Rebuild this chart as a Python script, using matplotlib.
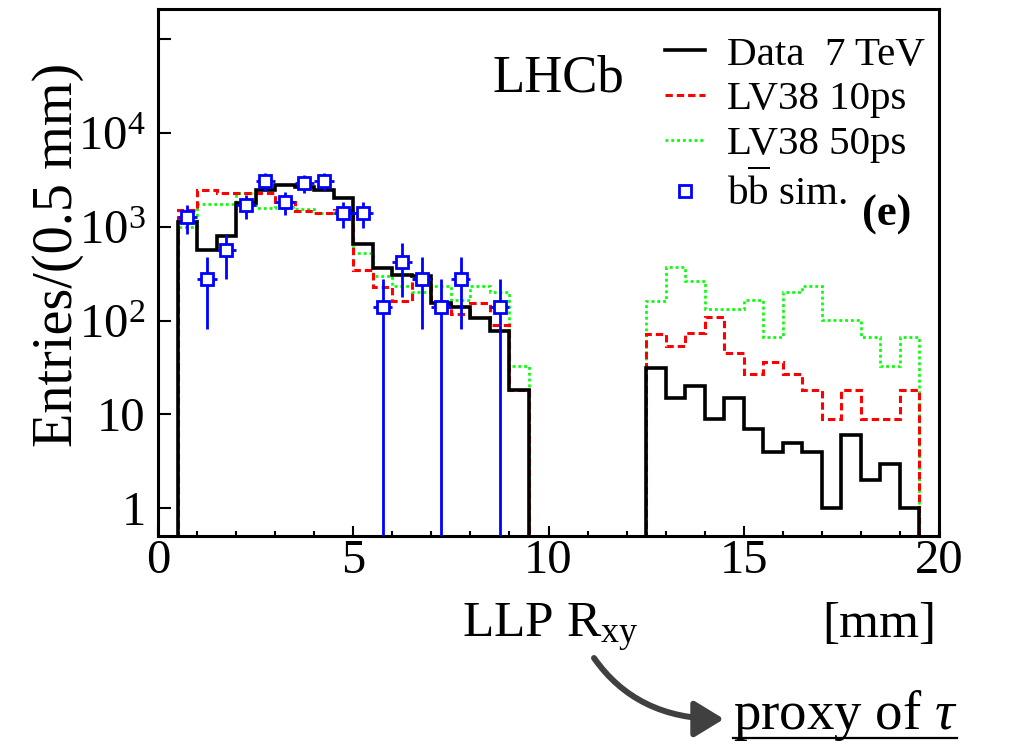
import matplotlib
matplotlib.use('Agg')
import matplotlib.pyplot as plt
import numpy as np
from matplotlib.patches import FancyArrowPatch
from matplotlib.lines import Line2D
from matplotlib.ticker import MultipleLocator, LogLocator, FixedLocator, FixedFormatter, NullFormatter

plt.rcParams['font.family'] = ['Liberation Serif', 'DejaVu Serif']
plt.rcParams['mathtext.fontset'] = 'custom'
plt.rcParams['mathtext.rm'] = 'Liberation Serif'
plt.rcParams['mathtext.it'] = 'Liberation Serif:italic'
plt.rcParams['mathtext.bf'] = 'Liberation Serif:bold'

# ---------------- data (entries per 0.5 mm bin) ----------------
bin_width = 0.5
left_start = 0.5      # first bin low edge of the inner region
right_start = 12.5    # first bin low edge of the outer region

data_left = [1127, 564, 794, 1770, 2480, 2800, 2660, 2480, 2020, 653, 360, 305, 298,
             155, 140, 106, 78, 18]
data_right = [31, 15, 20, 9, 15, 7, 4, 5, 4, 1, 6, 2, 3, 1]

lv10_left = [1500, 2480, 2260, 2260, 2300, 1850, 1450, 1400, 1500, 345, 226, 160, 278,
             150, 116, 152, 90, 18]
lv10_right = [72, 53, 73, 108, 45, 27, 36, 27, 18, 9, 18, 9, 9, 18]

lv50_left = [1000, 1740, 1740, 2260, 1570, 1600, 1540, 1386, 1479, 530, 299, 233, 203,
             233, 165, 233, 199, 33]
lv50_right = [163, 374, 264, 132, 132, 165, 66, 200, 235, 101, 101, 66, 33, 66]

bb_x = [0.75, 1.25, 1.75, 2.25, 2.75, 3.25, 3.75, 4.25, 4.75, 5.25, 5.75, 6.25, 6.75,
        7.25, 7.75, 8.75]
bb_y = [1260, 280, 560, 1680, 3080, 1820, 2940, 3080, 1400, 1400, 140, 420, 280,
        140, 280, 140]
bb_err = [420, 198, 280, 485, 657, 505, 642, 657, 443, 443, 140, 243, 198,
          140, 198, 140]

legend_labels = ['Data  7 TeV', 'LV38 10ps', 'LV38 50ps', r'b$\overline{\mathrm{b}}$ sim.']
ytick_vals = [1, 10, 100, 1000, 10000, 100000]
ytick_labels = ['1', '10', r'$10^{2}$', r'$10^{3}$', r'$10^{4}$', '']
xtick_vals = [0, 5, 10, 15, 20]


def edges(start, n):
    return start + bin_width * np.arange(n + 1)


W, H = 1009, 742
fig = plt.figure(figsize=(W / 100, H / 100), dpi=100)
ax = fig.add_axes([158 / W, 1 - 536 / H, (939 - 158) / W, (536 - 9) / H])
ax.set_yscale('log', nonpositive='clip')

base = 1e-3
green_ls = (0, (1.1, 1.1))
red_ls = (0, (2.4, 1.3))
green_kw = dict(color='#00ff00', lw=1.9, linestyle=green_ls, baseline=base, fill=False)
red_kw = dict(color='#ff0000', lw=2.2, linestyle=red_ls, baseline=base, fill=False)
black_kw = dict(color='black', lw=2.6, baseline=base, fill=False)

ax.stairs(lv50_left, edges(left_start, len(lv50_left)), **green_kw)
ax.stairs(lv50_right, edges(right_start, len(lv50_right)), **green_kw)
ax.stairs(lv10_left, edges(left_start, len(lv10_left)), **red_kw)
ax.stairs(lv10_right, edges(right_start, len(lv10_right)), **red_kw)
ax.stairs(data_left, edges(left_start, len(data_left)), **black_kw)
ax.stairs(data_right, edges(right_start, len(data_right)), **black_kw)

ax.errorbar(bb_x, bb_y, yerr=bb_err, xerr=bin_width / 2, fmt='s', color='#0000ff',
            mfc='white', mec='#0000ff', ms=8.5, mew=2.0, elinewidth=2.0, capsize=0, zorder=5)

ax.set_xlim(0, 20)
ax.set_ylim(0.507, 2.08e5)

ax.xaxis.set_major_locator(FixedLocator(xtick_vals))
ax.xaxis.set_minor_locator(MultipleLocator(1))
ax.yaxis.set_major_locator(FixedLocator(ytick_vals))
ax.yaxis.set_major_formatter(FixedFormatter(ytick_labels))
ax.yaxis.set_minor_locator(LogLocator(base=10, subs=np.arange(2, 10)))
ax.yaxis.set_minor_formatter(NullFormatter())

ax.tick_params(axis='both', which='both', direction='in', top=False, right=False,
               labelsize=35, width=1.5, color='black')
ax.tick_params(axis='y', which='major', length=9.5, pad=9)
ax.tick_params(axis='y', which='minor', length=4.8)
ax.tick_params(axis='x', which='major', length=7.5, pad=2)
ax.tick_params(axis='x', which='minor', length=3.8)
for s in ax.spines.values():
    s.set_linewidth(2.2)

# legend
handles = [
    Line2D([], [], color='black', lw=2.6),
    Line2D([], [], color='#ff0000', lw=2.2, linestyle=red_ls),
    Line2D([], [], color='#00ff00', lw=1.9, linestyle=green_ls),
    Line2D([], [], color='#0000ff', marker='s', mfc='white', mec='#0000ff', ms=8, mew=2.0,
           linestyle='none'),
]
leg = ax.legend(handles, legend_labels, loc='upper left', bbox_to_anchor=(665 / W, 1 - 36 / H),
                bbox_transform=fig.transFigure, frameon=False, fontsize=29.5,
                handlelength=0.97, handletextpad=0.55, labelspacing=0.17, borderpad=0,
                borderaxespad=0)

fig.text(493 / W, 1 - 92 / H, 'LHCb', fontsize=38, ha='left', va='baseline')
fig.text(862 / W, 1 - 226 / H, '(e)', fontsize=32, fontweight='bold', ha='left', va='baseline')

fig.text(58 / W, 1 - 63 / H, 'Entries/(0.5 mm)', fontsize=40.5, rotation=90,
         ha='center', va='top')
fig.text(462 / W, 1 - 637 / H, r'LLP R$_{\mathrm{xy}}$', fontsize=37, ha='left', va='baseline')
fig.text(936 / W, 1 - 637 / H, '[mm]', fontsize=37, ha='right', va='baseline')

# arrow and annotation
arrow = FancyArrowPatch(posA=(594 / W, 1 - 658 / H), posB=(724 / W, 1 - 719 / H),
                        transform=fig.transFigure, connectionstyle='angle3,angleA=-55,angleB=0',
                        arrowstyle='-|>,head_length=0.9,head_width=0.55', mutation_scale=20,
                        lw=4.3, color='#404040', shrinkA=0, shrinkB=0)
fig.patches.append(arrow)

ptxt = fig.text(733 / W, 1 - 729 / H, r'proxy of $\tau$', fontsize=39.5, ha='left', va='baseline')
fig.canvas.draw()
bb = ptxt.get_window_extent()
uy = 1 - 738 / H
fig.add_artist(Line2D([bb.x0 / W, bb.x1 / W], [uy, uy], transform=fig.transFigure,
                      color='black', lw=1.6))

fig.savefig('out.png', dpi=100)
